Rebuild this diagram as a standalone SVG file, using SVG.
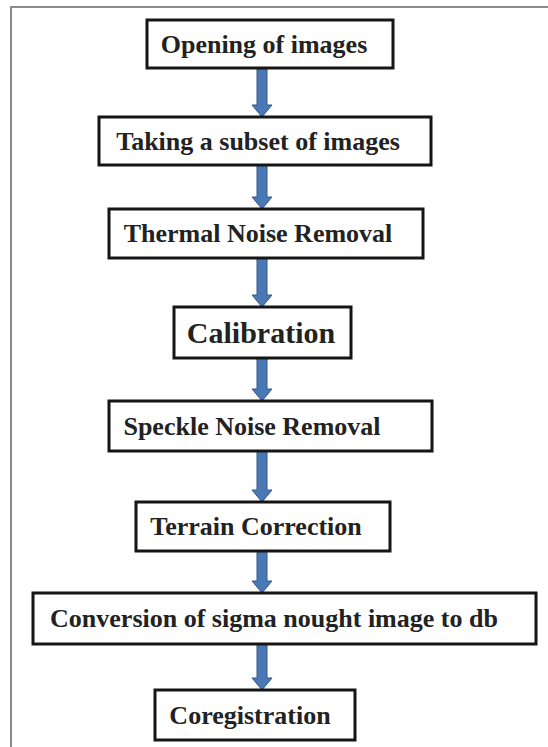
<svg xmlns="http://www.w3.org/2000/svg" width="548" height="747" viewBox="0 0 548 747">
<style>
.box{fill:#fff;stroke:#151515;stroke-width:3}
.lbl{font-family:"Liberation Serif","Times New Roman",serif;font-weight:bold;font-size:26px;fill:#222;text-anchor:middle}
.arr{fill:#4a78b4;stroke:#34598a;stroke-width:1}
.frame{fill:none;stroke:#8a8a8a;stroke-width:2}
</style>
<rect x="0" y="0" width="548" height="747" fill="#fff"/>
<path class="frame" d="M11,747 V7 H548"/>
<g id="connectors">
<path class="arr" d="M257,69 H267 V105 H272 L262,117 L252,105 H257 Z"/>
<path class="arr" d="M257,165 H267 V197 H272 L262,209 L252,197 H257 Z"/>
<path class="arr" d="M257,258 H267 V295 H272 L262,307 L252,295 H257 Z"/>
<path class="arr" d="M257,358 H267 V389 H272 L262,401 L252,389 H257 Z"/>
<path class="arr" d="M257,451 H267 V490 H272 L262,502 L252,490 H257 Z"/>
<path class="arr" d="M257,551 H267 V581 H272 L262,593 L252,581 H257 Z"/>
<path class="arr" d="M257,644 H267 V678 H272 L262,690 L252,678 H257 Z"/>
</g>
<g id="n1"><rect class="box" x="147" y="20" width="246" height="48"/><text class="lbl" x="264" y="53">Opening of images</text></g>
<g id="n2"><rect class="box" x="99" y="117" width="332" height="48"/><text class="lbl" x="258" y="150">Taking a subset of images</text></g>
<g id="n3"><rect class="box" x="109" y="209" width="314" height="49"/><text class="lbl" x="258" y="242">Thermal Noise Removal</text></g>
<g id="n4"><rect class="box" x="174" y="307" width="177" height="51"/><text class="lbl" x="261" y="343" style="font-size:30px">Calibration</text></g>
<g id="n5"><rect class="box" x="109" y="401" width="323" height="50"/><text class="lbl" x="252" y="435">Speckle Noise Removal</text></g>
<g id="n6"><rect class="box" x="136" y="502" width="254" height="49"/><text class="lbl" x="256" y="535">Terrain Correction</text></g>
<g id="n7"><rect class="box" x="33" y="593" width="503" height="51"/><text class="lbl" x="274" y="627">Conversion of sigma nought image to db</text></g>
<g id="n8"><rect class="box" x="155" y="690" width="200" height="50"/><text class="lbl" x="250" y="724">Coregistration</text></g>
</svg>
